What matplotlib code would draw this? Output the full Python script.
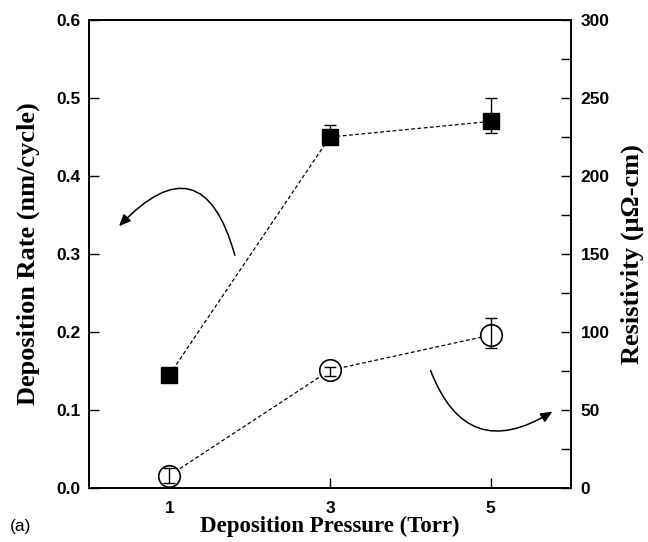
import matplotlib.pyplot as plt
from matplotlib.patches import FancyArrowPatch
from matplotlib.ticker import MultipleLocator

# data
pressure = [1, 3, 5]
dep_rate = [0.145, 0.450, 0.470]
dep_err_lo = [0.005, 0.008, 0.015]
dep_err_hi = [0.005, 0.015, 0.030]
resistivity = [8.0, 75.5, 98.0]
res_err_lo = [5.0, 4.0, 8.0]
res_err_hi = [5.0, 2.0, 11.0]

sans = ['Liberation Sans', 'DejaVu Sans']
serif = ['Liberation Serif', 'DejaVu Serif']

fig = plt.figure(figsize=(6.48, 5.42), dpi=100)
ax = fig.add_axes([0.1373, 0.0996, 0.7438, 0.8635])
ax2 = ax.twinx()

# deposition rate (filled squares, left axis)
ax.plot(pressure, dep_rate, linestyle=(0, (3, 2)), color='black', lw=0.9, zorder=2)
ax.errorbar(pressure, dep_rate, yerr=[dep_err_lo, dep_err_hi], fmt='s', ms=12,
            mfc='black', mec='black', ecolor='black', elinewidth=1, capsize=4, zorder=3)

# resistivity (open circles, right axis) - error bars drawn over the markers
ax2.plot(pressure, resistivity, linestyle=(0, (3, 2)), color='black', lw=0.9, zorder=2)
ax2.plot(pressure, resistivity, 'o', ms=15.5, mfc='white', mec='black', mew=1.2, zorder=3)
ax2.errorbar(pressure, resistivity, yerr=[res_err_lo, res_err_hi], fmt='none',
             ecolor='black', elinewidth=1, capsize=4, zorder=4)

ax.set_xlim(0, 6)
ax.set_ylim(0, 0.6)
ax2.set_ylim(0, 300)
ax.set_xticks(pressure)
ax.yaxis.set_major_locator(MultipleLocator(0.1))
ax2.yaxis.set_major_locator(MultipleLocator(50))
ax2.yaxis.set_minor_locator(MultipleLocator(25))

for a in (ax, ax2):
    for s in a.spines.values():
        s.set_linewidth(1.2)
ax.tick_params(direction='in', length=7, width=1, top=False, right=False, pad=6)
ax.tick_params(axis='x', pad=9)
ax2.tick_params(which='both', direction='in', length=7, width=1, pad=7)

tick_kw = dict(family=sans, weight='bold', size=12.5)
ax.set_xticklabels([str(p) for p in pressure], **tick_kw)
ax.set_yticklabels([f'{v:.1f}' for v in ax.get_yticks()], **tick_kw)
ax2.set_yticklabels([f'{v:.0f}' for v in ax2.get_yticks()], **tick_kw)

ax.set_xlabel('Deposition Pressure (Torr)', family=serif, weight='bold', size=16.5, labelpad=0)
ax.set_ylabel('Deposition Rate (nm/cycle)', family=serif, weight='bold', size=19, labelpad=12)
ax2.set_ylabel('Resistivity (\u03bc\u03a9-cm)', family=serif, weight='bold', size=19, labelpad=8)

# curved arrows pointing to the matching axis
arr1 = FancyArrowPatch((1.825, 0.295), (0.35, 0.333), connectionstyle='arc3,rad=0.9',
                       arrowstyle='-|>,head_length=7,head_width=3', color='black', lw=1.1,
                       mutation_scale=1)
arr2 = FancyArrowPatch((4.24, 0.154), (5.8, 0.10), connectionstyle='arc3,rad=0.62',
                       arrowstyle='-|>,head_length=7,head_width=3', color='black', lw=1.1,
                       mutation_scale=1)
ax.add_patch(arr1)
ax.add_patch(arr2)

fig.text(0.015, 0.02, '(a)', family=sans, size=12.5)

fig.savefig('out.png', dpi=100)
